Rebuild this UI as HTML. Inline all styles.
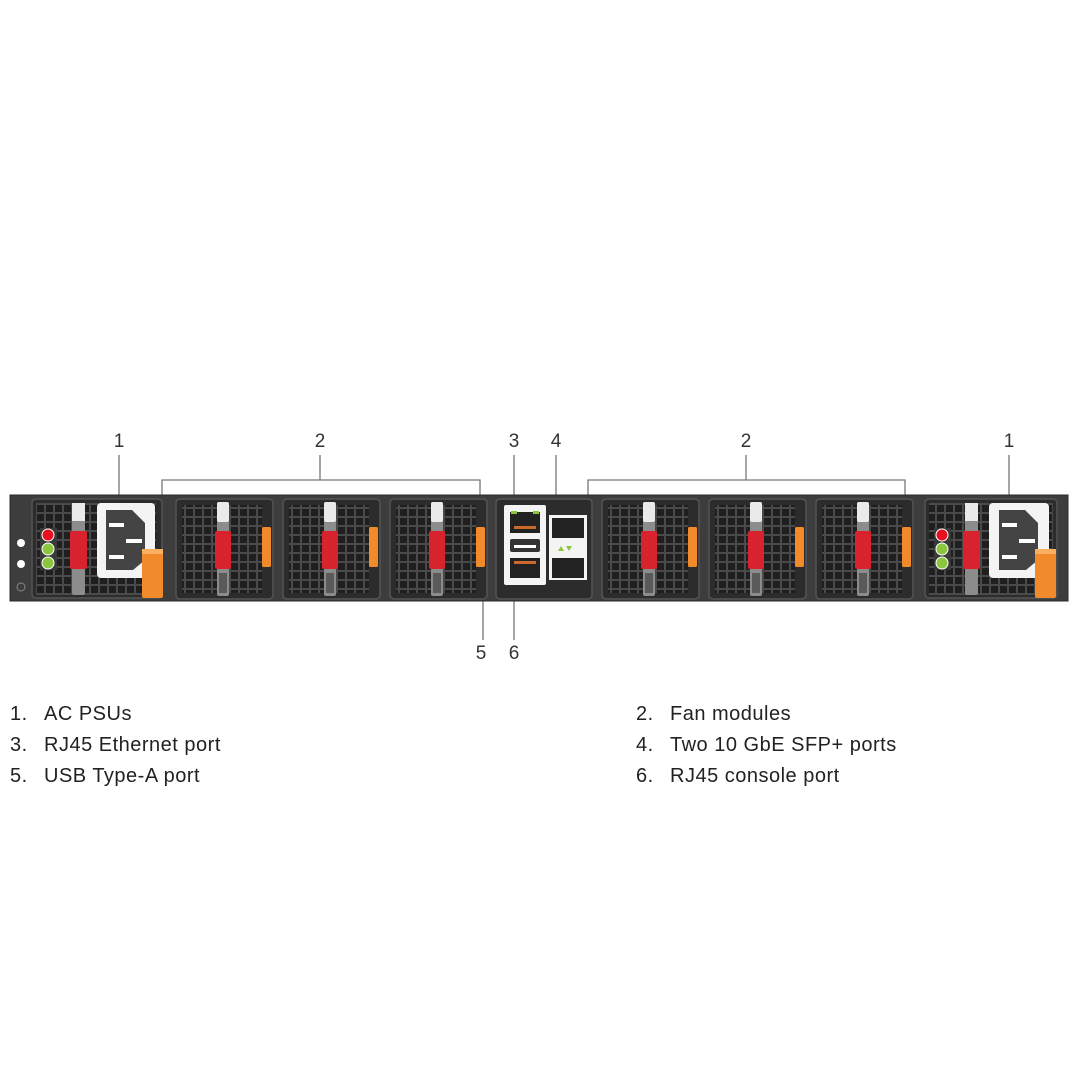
<!DOCTYPE html>
<html><head><meta charset="utf-8"><style>
body{margin:0;background:#fff;width:1080px;height:1080px;overflow:hidden;font-family:"Liberation Sans",sans-serif}
.t{position:absolute;font-size:20px;color:#222;white-space:nowrap;letter-spacing:0.5px}
</style></head><body>
<svg width="1080" height="1080" style="position:absolute;left:0;top:0">
<defs>
<pattern id="g" x="0" y="0" width="9" height="9" patternUnits="userSpaceOnUse">
<rect width="9" height="9" fill="#4a4a4a"/><rect x="1" y="1" width="7" height="7" fill="#1f1f1f"/>
</pattern>
<g id="fan">
<rect x="0" y="0" width="97" height="100" rx="4" fill="#2c2c2c" stroke="#555" stroke-width="1.5"/>
<rect x="6" y="6" width="80" height="88" fill="url(#g)"/>
<rect x="41" y="3" width="12" height="94" rx="2" fill="#8c8c8c"/>
<rect x="41" y="3" width="12" height="20" rx="2" fill="#eaeaea"/>
<rect x="39" y="32" width="16" height="38" rx="2" fill="#d8222e"/>
<rect x="43" y="74" width="8" height="20" fill="#5a5a5a"/>
<rect x="86" y="28" width="9" height="40" rx="1.5" fill="#f08a2a"/>
</g>
</defs>
<g stroke="#777" stroke-width="1.3" fill="none">
<path d="M119 455V499M162 500V480H480V500M320 455V480M588 500V480H905V500M746 455V480M514 455V508M556 455V518M1009 455V499M514 585V640M498 546H483V640"/>
</g>
<rect x="10" y="495" width="1058" height="106" fill="#3d3d3d" stroke="#2a2a2a"/>
<circle cx="21" cy="543" r="4" fill="#fff"/><circle cx="21" cy="564" r="4" fill="#fff"/>
<circle cx="21" cy="587" r="4" fill="none" stroke="#888"/>
<rect x="32" y="499" width="130" height="99" rx="4" fill="#2c2c2c" stroke="#555" stroke-width="1.5"/>
<rect x="36" y="503" width="120" height="92" fill="url(#g)"/>
<rect x="40" y="528" width="17" height="42" fill="#3a3a3a"/>
<circle cx="48" cy="535" r="6" fill="#e8101e" stroke="#fff"/><circle cx="48" cy="549" r="6" fill="#8cc63f" stroke="#fff"/><circle cx="48" cy="563" r="6" fill="#8cc63f" stroke="#fff"/>
<rect x="72" y="503" width="13" height="92" rx="2" fill="#8c8c8c"/><rect x="72" y="503" width="13" height="18" fill="#eaeaea"/>
<rect x="70" y="531" width="17" height="38" rx="2" fill="#d8222e"/>
<rect x="97" y="503" width="58" height="75" rx="4" fill="#f4f4f4"/>
<path d="M106 510H132L145 523V560L133 570H106Z" fill="#444"/>
<rect x="109" y="523" width="15" height="4" fill="#fff"/><rect x="126" y="539" width="16" height="4" fill="#fff"/><rect x="109" y="555" width="15" height="4" fill="#fff"/>
<rect x="142" y="549" width="21" height="49" rx="2" fill="#f08a2a"/><rect x="142" y="549" width="21" height="5" fill="#f8b060"/>
<use href="#fan" x="176" y="499"/><use href="#fan" x="283" y="499"/><use href="#fan" x="390" y="499"/>
<use href="#fan" x="602" y="499"/><use href="#fan" x="709" y="499"/><use href="#fan" x="816" y="499"/>
<rect x="496" y="499" width="96" height="100" rx="4" fill="#2c2c2c" stroke="#555" stroke-width="1.5"/>
<rect x="504" y="505" width="42" height="80" rx="2" fill="#f4f4f4"/>
<rect x="510" y="512" width="30" height="21" fill="#222"/><rect x="511" y="511" width="6" height="3" fill="#8cc63f"/><rect x="533" y="511" width="6" height="3" fill="#8cc63f"/>
<rect x="514" y="526" width="22" height="3" fill="#c96a2a"/>
<rect x="510" y="539" width="30" height="13" rx="2" fill="#333"/><rect x="514" y="545" width="22" height="3" fill="#fff"/>
<rect x="510" y="558" width="30" height="20" fill="#222"/><rect x="514" y="561" width="22" height="3" fill="#c96a2a"/>
<rect x="549" y="515" width="38" height="65" fill="#f4f4f4"/>
<rect x="552" y="518" width="32" height="20" fill="#222"/><rect x="552" y="558" width="32" height="20" fill="#222"/>
<path d="M558 551l3-5 3 5zM566 546h6l-3 5z" fill="#8cc63f"/>
<rect x="925" y="499" width="132" height="99" rx="4" fill="#2c2c2c" stroke="#555" stroke-width="1.5"/>
<rect x="929" y="503" width="124" height="92" fill="url(#g)"/>
<rect x="934" y="528" width="17" height="42" fill="#3a3a3a"/>
<circle cx="942" cy="535" r="6" fill="#e8101e" stroke="#fff"/><circle cx="942" cy="549" r="6" fill="#8cc63f" stroke="#fff"/><circle cx="942" cy="563" r="6" fill="#8cc63f" stroke="#fff"/>
<rect x="965" y="503" width="13" height="92" rx="2" fill="#8c8c8c"/><rect x="965" y="503" width="13" height="18" fill="#eaeaea"/>
<rect x="963" y="531" width="17" height="38" rx="2" fill="#d8222e"/>
<rect x="989" y="503" width="60" height="75" rx="4" fill="#f4f4f4"/>
<path d="M999 510H1025L1038 523V560L1026 570H999Z" fill="#444"/>
<rect x="1002" y="523" width="15" height="4" fill="#fff"/><rect x="1019" y="539" width="16" height="4" fill="#fff"/><rect x="1002" y="555" width="15" height="4" fill="#fff"/>
<rect x="1035" y="549" width="21" height="49" rx="2" fill="#f08a2a"/><rect x="1035" y="549" width="21" height="5" fill="#f8b060"/>
<g font-family="Liberation Sans" font-size="19" fill="#333" text-anchor="middle">
<text x="119" y="447">1</text><text x="320" y="447">2</text><text x="514" y="447">3</text><text x="556" y="447">4</text><text x="746" y="447">2</text><text x="1009" y="447">1</text>
<text x="481" y="659">5</text><text x="514" y="659">6</text>
</g>
</svg>
<div class="t" style="left:10px;top:703px">1.</div><div class="t" style="left:44px;top:703px">AC PSUs</div>
<div class="t" style="left:10px;top:734px">3.</div><div class="t" style="left:44px;top:734px">RJ45 Ethernet port</div>
<div class="t" style="left:10px;top:765px">5.</div><div class="t" style="left:44px;top:765px">USB Type-A port</div>
<div class="t" style="left:636px;top:703px">2.</div><div class="t" style="left:670px;top:703px">Fan modules</div>
<div class="t" style="left:636px;top:734px">4.</div><div class="t" style="left:670px;top:734px">Two 10 GbE SFP+ ports</div>
<div class="t" style="left:636px;top:765px">6.</div><div class="t" style="left:670px;top:765px">RJ45 console port</div>
</body></html>
